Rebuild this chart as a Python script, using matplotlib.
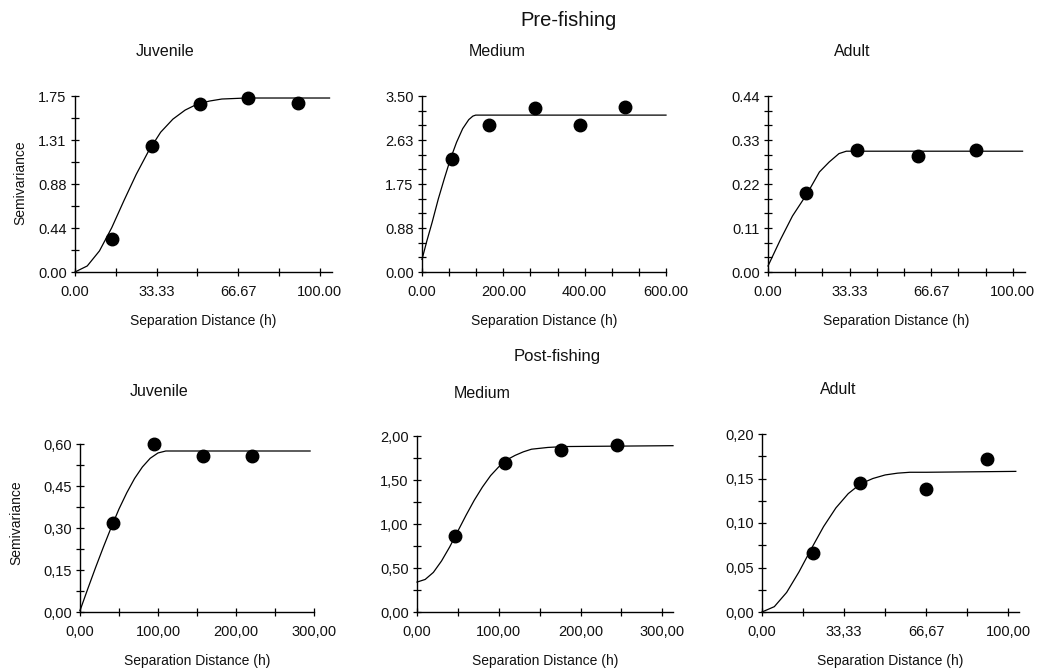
import numpy as np
import matplotlib
matplotlib.use("Agg")
import matplotlib.pyplot as plt

plt.rcParams['font.family'] = ['Liberation Sans', 'DejaVu Sans']

W, H = 1041, 671

# -----------------------------
# Data
# -----------------------------
group_titles = ["Pre-fishing", "Post-fishing"]
size_classes = ["Juvenile", "Medium", "Adult"]

# Pre-fishing, juvenile
pre_juv_lag = [15.1, 31.4, 51.0, 70.6, 91.0]
pre_juv_gamma = [0.33, 1.25, 1.67, 1.73, 1.68]
pre_juv_model_h = [0, 5, 10, 15, 20, 25, 30, 35, 40, 45, 50, 55, 60, 70, 104]
pre_juv_model_g = [0, 0.06, 0.21, 0.44, 0.71, 0.97, 1.20, 1.39, 1.52, 1.61,
                   1.67, 1.70, 1.72, 1.73, 1.73]

# Pre-fishing, medium
pre_med_lag = [74, 164, 279, 388, 498]
pre_med_gamma = [2.24, 2.92, 3.26, 2.92, 3.29]
pre_med_model_h = [0, 12, 25, 40, 55, 70, 85, 100, 115, 125, 132, 600]
pre_med_model_g = [0.25, 0.62, 0.99, 1.45, 1.86, 2.25, 2.58, 2.85, 3.03,
                   3.10, 3.12, 3.12]

# Pre-fishing, adult
pre_adu_lag = [15.6, 36.3, 61.2, 85.0]
pre_adu_gamma = [0.197, 0.304, 0.289, 0.305]
pre_adu_model_h = [0, 5, 10, 16, 21, 25, 29, 32, 104]
pre_adu_model_g = [0.015, 0.080, 0.140, 0.196, 0.250, 0.275, 0.296, 0.302, 0.302]

# Post-fishing, juvenile
post_juv_lag = [42.7, 95.3, 158, 220]
post_juv_gamma = [0.317, 0.600, 0.557, 0.557]
post_juv_model_h = [0, 10, 20, 30, 40, 50, 60, 70, 80, 90, 100, 110, 295]
post_juv_model_g = [0.005, 0.083, 0.159, 0.232, 0.302, 0.368, 0.426, 0.477,
                    0.518, 0.549, 0.568, 0.575, 0.575]

# Post-fishing, medium
post_med_lag = [47, 107, 175.5, 244]
post_med_gamma = [0.864, 1.694, 1.838, 1.902]
post_med_model_h = [0, 10, 20, 30, 40, 50, 60, 70, 80, 90, 100, 110, 120, 130,
                    140, 160, 180, 313]
post_med_model_g = [0.34, 0.37, 0.45, 0.58, 0.74, 0.92, 1.10, 1.27, 1.42, 1.55,
                    1.65, 1.73, 1.78, 1.82, 1.85, 1.87, 1.88, 1.89]

# Post-fishing, adult
post_adu_lag = [20.7, 39.6, 66.6, 91.5]
post_adu_gamma = [0.066, 0.145, 0.138, 0.172]
post_adu_model_h = [0, 5, 10, 15, 20, 25, 30, 35, 40, 45, 50, 55, 60, 66.67, 103]
post_adu_model_g = [0, 0.006, 0.022, 0.045, 0.071, 0.096, 0.117, 0.133, 0.144,
                    0.150, 0.154, 0.156, 0.157, 0.157, 0.158]

# tick labels
pre_juv_xlabels = ["0.00", "33.33", "66.67", "100.00"]
pre_juv_ylabels = ["0.00", "0.44", "0.88", "1.31", "1.75"]
pre_med_xlabels = ["0.00", "200.00", "400.00", "600.00"]
pre_med_ylabels = ["0.00", "0.88", "1.75", "2.63", "3.50"]
pre_adu_xlabels = ["0.00", "33.33", "66.67", "100.00"]
pre_adu_ylabels = ["0.00", "0.11", "0.22", "0.33", "0.44"]
post_juv_xlabels = ["0,00", "100,00", "200,00", "300,00"]
post_juv_ylabels = ["0,00", "0,15", "0,30", "0,45", "0,60"]
post_med_xlabels = ["0,00", "100,00", "200,00", "300,00"]
post_med_ylabels = ["0,00", "0,50", "1,00", "1,50", "2,00"]
post_adu_xlabels = ["0,00", "33,33", "66,67", "100,00"]
post_adu_ylabels = ["0,00", "0,05", "0,10", "0,15", "0,20"]

# -----------------------------
# Panel layout (pixels: left, right, top, bottom)
# -----------------------------
panels = [
    dict(box=(75, 332, 96, 272), xmax=105, xstep=100 / 3, xsub=2, ymax=1.75, ysub=2,
         lag=pre_juv_lag, gamma=pre_juv_gamma, mh=pre_juv_model_h, mg=pre_juv_model_g,
         xl=pre_juv_xlabels, yl=pre_juv_ylabels, title=(165, 52), ylab=(20, 183)),
    dict(box=(422, 666, 96, 272), xmax=600, xstep=200, xsub=3, ymax=3.5, ysub=3,
         lag=pre_med_lag, gamma=pre_med_gamma, mh=pre_med_model_h, mg=pre_med_model_g,
         xl=pre_med_xlabels, yl=pre_med_ylabels, title=(497, 52), ylab=None),
    dict(box=(768, 1025, 96, 272), xmax=105, xstep=100 / 3, xsub=3, ymax=0.44, ysub=3,
         lag=pre_adu_lag, gamma=pre_adu_gamma, mh=pre_adu_model_h, mg=pre_adu_model_g,
         xl=pre_adu_xlabels, yl=pre_adu_ylabels, title=(852, 52), ylab=None),
    dict(box=(80, 314, 444, 612), xmax=300, xstep=100, xsub=2, ymax=0.6, ysub=2,
         lag=post_juv_lag, gamma=post_juv_gamma, mh=post_juv_model_h, mg=post_juv_model_g,
         xl=post_juv_xlabels, yl=post_juv_ylabels, title=(159, 392), ylab=(16, 523)),
    dict(box=(417, 673, 436, 612), xmax=313, xstep=100, xsub=2, ymax=2.0, ysub=2,
         lag=post_med_lag, gamma=post_med_gamma, mh=post_med_model_h, mg=post_med_model_g,
         xl=post_med_xlabels, yl=post_med_ylabels, title=(482, 393), ylab=None),
    dict(box=(762, 1019, 434, 612), xmax=104.3, xstep=100 / 3, xsub=2, ymax=0.2, ysub=2,
         lag=post_adu_lag, gamma=post_adu_gamma, mh=post_adu_model_h, mg=post_adu_model_g,
         xl=post_adu_xlabels, yl=post_adu_ylabels, title=(838, 389), ylab=None),
]

fig = plt.figure(figsize=(W / 100, H / 100), dpi=100)
fig.patch.set_facecolor("white")

txt = "#111111"

for i, p in enumerate(panels):
    l, r, t, b = p["box"]
    ax = fig.add_axes([l / W, 1 - b / H, (r - l) / W, (b - t) / H])
    ax.plot(p["mh"], p["mg"], color="black", lw=0.9, clip_on=False)
    ax.plot(p["lag"], p["gamma"], "o", color="black", ms=9, clip_on=False)

    ax.set_xlim(0, p["xmax"])
    ax.set_ylim(0, p["ymax"])

    # ticks
    xmaj = [k * p["xstep"] for k in range(len(p["xl"]))]
    ymaj = [k * p["ymax"] / 4 for k in range(len(p["yl"]))]
    ax.set_xticks(xmaj)
    ax.set_xticklabels(p["xl"])
    ax.set_yticks(ymaj)
    ax.set_yticklabels(p["yl"])
    xmin_t = np.arange(0, p["xmax"] + 1e-6, p["xstep"] / p["xsub"])
    ymin_t = np.arange(0, p["ymax"] + 1e-9, p["ymax"] / 4 / p["ysub"])
    ax.set_xticks(xmin_t, minor=True)
    ax.set_yticks(ymin_t, minor=True)
    ax.tick_params(which="both", direction="inout", length=6, width=0.9,
                   colors="black", labelcolor=txt, labelsize=10.5)
    ax.tick_params(axis="x", pad=6)
    ax.tick_params(axis="y", pad=3)

    for s in ["top", "right"]:
        ax.spines[s].set_visible(False)
    for s in ["left", "bottom"]:
        ax.spines[s].set_linewidth(1.0)
        ax.spines[s].set_color("black")
    ax.patch.set_alpha(0)

    # axis label
    fig.text((l + r) / 2 / W, 1 - (b + 49) / H, "Separation Distance (h)",
             ha="center", va="center", fontsize=10, color=txt)
    if p["ylab"] is not None:
        fig.text(p["ylab"][0] / W, 1 - p["ylab"][1] / H, "Semivariance",
                 ha="center", va="center", rotation=90, fontsize=10, color=txt)

    # class title
    tx, ty = p["title"]
    fig.text(tx / W, 1 - ty / H, size_classes[i % 3], ha="center", va="center",
             fontsize=11.5, color=txt)

fig.text(568 / W, 1 - 20 / H, group_titles[0], ha="center", va="center",
         fontsize=14.5, color=txt)
fig.text(557 / W, 1 - 357 / H, group_titles[1], ha="center", va="center",
         fontsize=12, color=txt)

fig.savefig("out.png", dpi=100)
